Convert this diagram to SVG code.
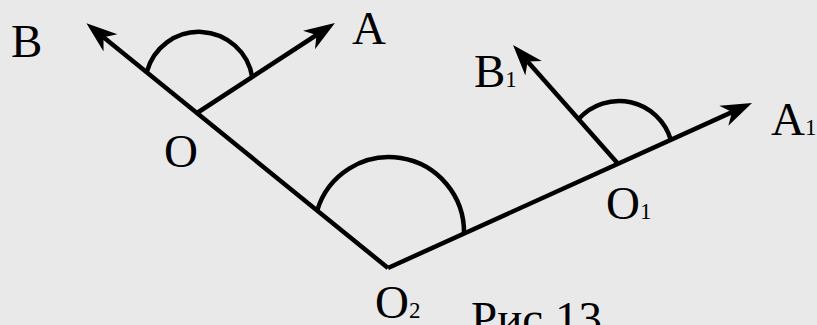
<svg xmlns="http://www.w3.org/2000/svg" width="817" height="325" viewBox="0 0 817 325">
  <style>
    .ln { stroke: #000; stroke-width: 4.5; fill: none; }
    .arc { stroke: #000; stroke-width: 4.5; fill: none; }
    .lbl { font-family: "Liberation Serif", "Times New Roman", serif; font-size: 47px; fill: #000; }
    .sub { font-size: 23px; }
  </style>
  <defs>
    <marker id="arr" markerUnits="userSpaceOnUse" viewBox="0 0 32 24" markerWidth="32" markerHeight="24" refX="9" refY="12" orient="auto">
      <path d="M31,12 L0,1 L9,12 L0,23 Z" fill="#000"/>
    </marker>
  </defs>
  <rect x="0" y="0" width="817" height="325" fill="#e9e9e9"/>

  <g id="connectors">
    <line class="ln" x1="388" y1="268" x2="103.5" y2="37.2" marker-end="url(#arr)"/>
    <line class="ln" x1="197" y1="113" x2="316.5" y2="35" marker-end="url(#arr)"/>
    <line class="ln" x1="388" y1="268" x2="732" y2="112.1" marker-end="url(#arr)"/>
    <line class="ln" x1="618" y1="163.7" x2="527.6" y2="61.5" marker-end="url(#arr)"/>
    <path class="arc" d="M146.7,72.3 A54,54 0 0 1 252.3,77.3"/>
    <path class="arc" d="M578.6,119.1 A54,54 0 0 1 670.8,139.8"/>
    <path class="arc" d="M317.2,210.5 A75,75 0 0 1 464,233.6"/>
  </g>

  <g id="node-B"><text class="lbl" x="11" y="57">B</text></g>
  <g id="node-A"><text class="lbl" x="352" y="44">A</text></g>
  <g id="node-O"><text class="lbl" x="164" y="167">O</text></g>
  <g id="node-B1"><text class="lbl" x="474" y="87" font-size="44">B<tspan class="sub">1</tspan></text></g>
  <g id="node-A1"><text class="lbl" x="771" y="135">A<tspan class="sub">1</tspan></text></g>
  <g id="node-O1"><text class="lbl" x="606" y="219" font-size="42">O<tspan class="sub">1</tspan></text></g>
  <g id="node-O2"><text class="lbl" x="375" y="318" font-size="45">O<tspan class="sub">2</tspan></text></g>
  <g id="caption"><text class="lbl" x="471" y="334" font-size="45">Рис.13</text></g>
</svg>
